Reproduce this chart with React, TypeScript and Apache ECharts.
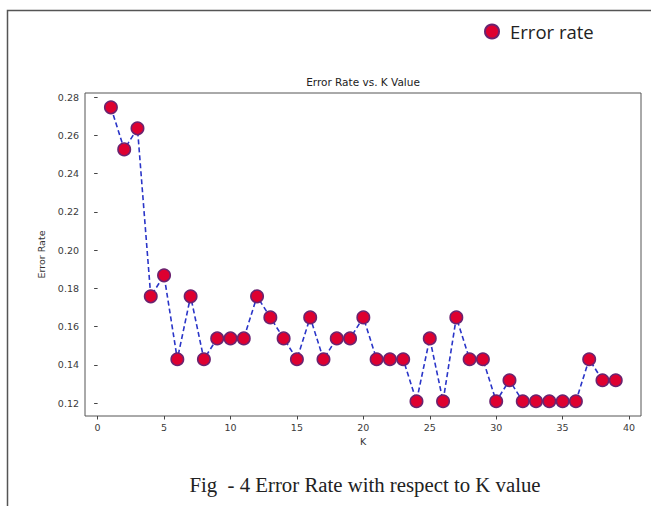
import React, { useEffect, useRef } from "react";
import * as echarts from "echarts";

const kValues = [1,2,3,4,5,6,7,8,9,10,11,12,13,14,15,16,17,18,19,20,21,22,23,24,25,26,27,28,29,30,31,32,33,34,35,36,37,38,39];
const errorRates = [
  0.2747, 0.2527, 0.2637, 0.1758, 0.1868, 0.1429, 0.1758, 0.1429, 0.1538, 0.1538,
  0.1538, 0.1758, 0.1648, 0.1538, 0.1429, 0.1648, 0.1429, 0.1538, 0.1538, 0.1648,
  0.1429, 0.1429, 0.1429, 0.1209, 0.1538, 0.1209, 0.1648, 0.1429, 0.1429, 0.1209,
  0.1319, 0.1209, 0.1209, 0.1209, 0.1209, 0.1209, 0.1429, 0.1319, 0.1319,
];
const xTicks = [0, 5, 10, 15, 20, 25, 30, 35, 40];
const yTicks = [0.12, 0.14, 0.16, 0.18, 0.2, 0.22, 0.24, 0.26, 0.28];
const seriesName = "Error rate";
const chartTitle = "Error Rate vs. K Value";
const xName = "K";
const yName = "Error Rate";
const caption = "Fig  - 4 Error Rate with respect to K value";

export default function App() {
  const ref = useRef<HTMLDivElement>(null);
  useEffect(() => {
    document.body.style.margin = "0";
    const chart = echarts.init(ref.current!, null, { renderer: "svg" });
    const axisFont = { fontFamily: "DejaVu Sans", fontSize: 9.5, color: "#3a3a3a" };
    chart.setOption({
      animation: false,
      backgroundColor: "#fff",
      title: {
        text: chartTitle,
        left: 363,
        top: 76,
        textAlign: "center",
        textStyle: { fontFamily: "DejaVu Sans", fontSize: 10.5, fontWeight: "normal", color: "#222", lineHeight: 12 },
        padding: 0,
      },
      legend: {
        data: [seriesName],
        left: 479,
        top: 17,
        icon: "circle",
        itemWidth: 14,
        itemHeight: 14,
        itemGap: 6,
        textStyle: { fontFamily: "Open Sans", fontSize: 18.5, color: "#222", padding: [0, 0, 0, 6] },
      },
      grid: {
        left: 85,
        top: 93,
        right: 10,
        bottom: 90,
        show: true,
        borderColor: "#555",
        borderWidth: 1,
        backgroundColor: "transparent",
      },
      xAxis: {
        type: "value",
        min: -0.95,
        max: 40.9,
        name: xName,
        nameLocation: "middle",
        nameGap: 20,
        nameTextStyle: { fontFamily: "DejaVu Sans", fontSize: 9.5, color: "#333" },
        axisLine: { show: false },
        splitLine: { show: false },
        axisTick: { show: true, length: 3.5, customValues: xTicks, lineStyle: { color: "#444" } },
        axisLabel: { ...axisFont, margin: 6, customValues: xTicks, formatter: (v: number) => String(v) },
      },
      yAxis: {
        type: "value",
        min: 0.1132,
        max: 0.2822,
        name: yName,
        nameLocation: "middle",
        nameGap: 36,
        nameTextStyle: { fontFamily: "DejaVu Sans", fontSize: 9.5, color: "#333" },
        axisLine: { show: false },
        splitLine: { show: false },
        axisTick: { show: true, length: 3.5, customValues: yTicks, lineStyle: { color: "#444" } },
        axisLabel: { ...axisFont, margin: 6, customValues: yTicks, formatter: (v: number) => v.toFixed(2) },
      },
      series: [
        {
          name: seriesName,
          type: "line",
          data: kValues.map((k, i) => [k, errorRates[i]]),
          symbol: "circle",
          symbolSize: 12.5,
          showAllSymbol: true,
          lineStyle: { color: "#2a35c8", type: [5, 3], width: 1.6 },
          itemStyle: { color: "#de0030", borderColor: "#6b2370", borderWidth: 1.5 },
          emphasis: { disabled: true },
        },
      ],
      graphic: [
        {
          type: "rect",
          shape: { x: 7.5, y: 10.5, width: 700, height: 600 },
          style: { fill: "none", stroke: "#555", lineWidth: 1.5 },
          silent: true,
        },
        {
          type: "text",
          x: 365,
          y: 484,
          style: {
            text: caption,
            fontFamily: "Liberation Serif",
            fontSize: 20.8,
            fill: "#222",
            textAlign: "center",
            textVerticalAlign: "middle",
          },
        },
      ],
    });
    return () => chart.dispose();
  }, []);
  return <div ref={ref} style={{ width: 651, height: 506 }} />;
}
